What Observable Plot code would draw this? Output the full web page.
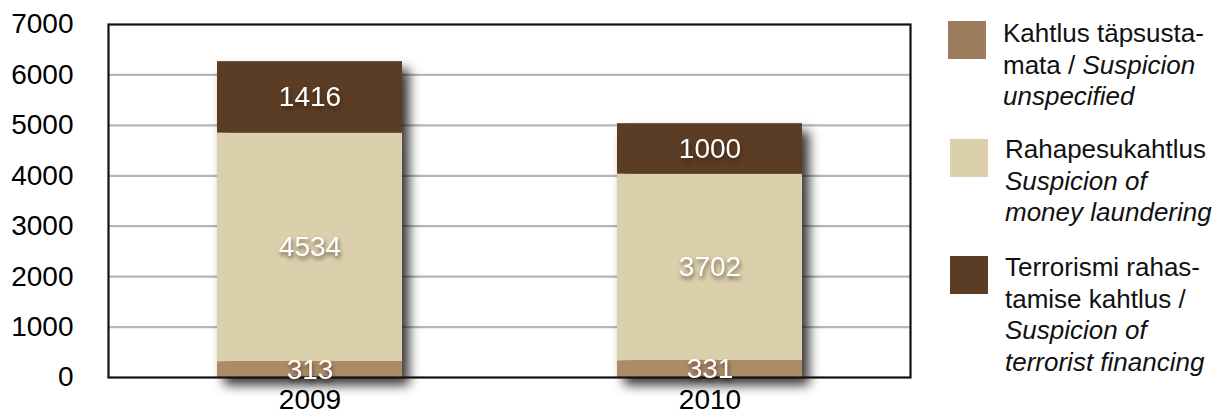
<!DOCTYPE html>
<html>
<head>
<meta charset="utf-8">
<script src="https://cdn.jsdelivr.net/npm/d3@7"></script>
<script src="https://cdn.jsdelivr.net/npm/@observablehq/plot@0.6"></script>
<style>
  html, body { margin: 0; padding: 0; background: #fff; }
  #wrap { position: relative; width: 1218px; height: 417px; overflow: hidden; font-family: "Liberation Sans", Arial, sans-serif; }
  .sw { position: absolute; width: 38px; height: 38px; }
  .lt { position: absolute; font-size: 26px; line-height: 31.5px; color: #111; white-space: nowrap; }
</style>
</head>
<body>
<div id="wrap"></div>
<script>
// ---- data ----
const years = ["2009", "2010"];
const seriesKeys = ["unspecified", "laundering", "terrorist"];
const unspecified = [313, 331];
const laundering = [4534, 3702];
const terrorist = [1416, 1000];
const seriesColors = ["#ae8b67", "#dccfac", "#5b3c24"];
const legendColors = ["#9c7d5d", "#dccfac", "#5b3c24"];
const legendLabels = [
  "Kahtlus täpsusta-<br>mata / <i>Suspicion</i><br><i>unspecified</i>",
  "Rahapesukahtlus<br><i>Suspicion of</i><br><i>money laundering</i>",
  "Terrorismi rahas-<br>tamise kahtlus /<br><i>Suspicion of</i><br><i>terrorist financing</i>"
];
const yTicks = [0, 1000, 2000, 3000, 4000, 5000, 6000, 7000];
const gridVals = [1000, 2000, 3000, 4000, 5000, 6000];

const valuesBySeries = { unspecified, laundering, terrorist };
const data = [];
seriesKeys.forEach(s => years.forEach((y, i) => data.push({ year: y, series: s, value: valuesBySeries[s][i] })));

const chart = Plot.plot({
  width: 1218,
  height: 417,
  marginLeft: 108,
  marginRight: 308,
  marginTop: 24,
  marginBottom: 40,
  style: { fontFamily: "'Liberation Sans', Arial, sans-serif", fontSize: "28px", color: "#000", background: "transparent", overflow: "visible" },
  x: { domain: years, paddingInner: 0.5375, paddingOuter: 0.27, label: null, tickSize: 0, tickPadding: 12 },
  y: { domain: [0, 7000], ticks: yTicks, tickFormat: d => String(d), label: null, tickSize: 0, tickPadding: 35 },
  color: { domain: seriesKeys, range: seriesColors },
  marks: [
    Plot.ruleY(gridVals, { stroke: "#b6b6ba", strokeWidth: 2.2 }),
    Plot.barY(data, Plot.stackY({ x: "year", y: "value", z: "series", fill: "series", order: seriesKeys })),
    Plot.frame({ stroke: "#111", strokeWidth: 2.2 }),
    Plot.text(data, Plot.stackY({ x: "year", y: "value", z: "series", order: seriesKeys, text: d => String(d.value), fill: "#fff", fontSize: 28 }))
  ]
});

document.getElementById("wrap").appendChild(chart);
d3.select(chart).selectAll('g[aria-label="bar"]').style("filter", "drop-shadow(7px 8px 6px rgba(0,0,0,0.8))");
d3.select(chart).selectAll('g[aria-label="text"]').style("filter", "drop-shadow(1px 3px 2px rgba(40,25,10,0.6))");
d3.select(chart).style("position", "absolute").style("left", "0px").style("top", "0px");

// ---- legend ----
const swPos = [[948, 21], [950, 139], [950, 256]];
const txPos = [[1003, 18], [1005, 134], [1005, 252]];
const wrap = document.getElementById("wrap");
seriesKeys.forEach((s, i) => {
  const sw = document.createElement("div");
  sw.className = "sw";
  sw.style.left = swPos[i][0] + "px";
  sw.style.top = swPos[i][1] + "px";
  sw.style.background = legendColors[i];
  wrap.appendChild(sw);
  const t = document.createElement("div");
  t.className = "lt";
  t.style.left = txPos[i][0] + "px";
  t.style.top = txPos[i][1] + "px";
  t.innerHTML = legendLabels[i];
  wrap.appendChild(t);
});
</script>
</body>
</html>
